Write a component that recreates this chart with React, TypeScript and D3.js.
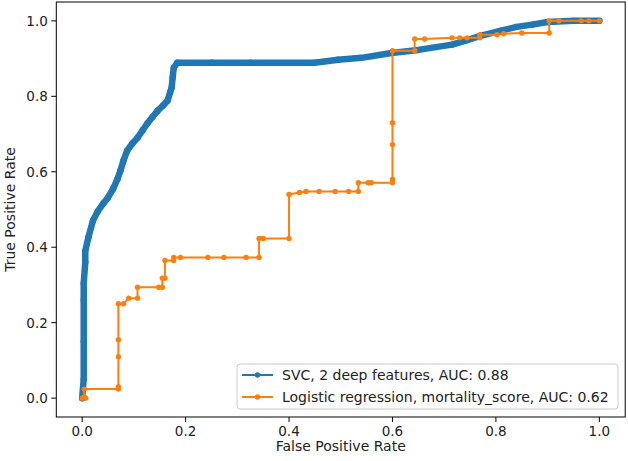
import React from "react";
import * as d3 from "d3";

const svcFpr = [0, 0.003, 0.003, 0.003, 0.003, 0.006, 0.006, 0.012, 0.021, 0.03, 0.041, 0.05, 0.06, 0.068, 0.074, 0.08, 0.087, 0.097, 0.107, 0.117, 0.126, 0.136, 0.146, 0.156, 0.165, 0.17, 0.173, 0.175, 0.177, 0.184, 0.25, 0.326, 0.449, 0.495, 0.54, 0.598, 0.65, 0.715, 0.74, 0.77, 0.81, 0.84, 0.87, 0.9, 0.95, 1.0];
const svcTpr = [0, 0.05, 0.15, 0.26, 0.304, 0.36, 0.39, 0.426, 0.471, 0.495, 0.516, 0.532, 0.555, 0.58, 0.603, 0.63, 0.656, 0.675, 0.69, 0.71, 0.728, 0.745, 0.762, 0.775, 0.788, 0.81, 0.823, 0.85, 0.875, 0.889, 0.889, 0.889, 0.889, 0.897, 0.902, 0.915, 0.923, 0.937, 0.947, 0.96, 0.974, 0.984, 0.99, 0.997, 1.0, 1.0];

const lrFpr = [0, 0.007, 0.004, 0.004, 0.07, 0.07, 0.07, 0.07, 0.07, 0.08, 0.09, 0.107, 0.107, 0.148, 0.155, 0.155, 0.16, 0.16, 0.177, 0.177, 0.19, 0.243, 0.274, 0.317, 0.342, 0.342, 0.35, 0.4, 0.4, 0.42, 0.433, 0.458, 0.489, 0.515, 0.534, 0.534, 0.553, 0.559, 0.6, 0.6, 0.6, 0.6, 0.6, 0.643, 0.643, 0.662, 0.715, 0.73, 0.744, 0.769, 0.769, 0.802, 0.815, 0.85, 0.903, 0.903, 0.922, 0.965, 0.98, 1.0];
const lrTpr = [0, 0, 0.003, 0.024, 0.024, 0.03, 0.11, 0.155, 0.25, 0.25, 0.265, 0.265, 0.294, 0.294, 0.294, 0.318, 0.318, 0.365, 0.365, 0.373, 0.373, 0.373, 0.373, 0.373, 0.373, 0.423, 0.423, 0.423, 0.54, 0.545, 0.548, 0.548, 0.548, 0.548, 0.548, 0.571, 0.571, 0.571, 0.571, 0.58, 0.672, 0.73, 0.921, 0.921, 0.952, 0.952, 0.955, 0.955, 0.955, 0.955, 0.963, 0.963, 0.966, 0.968, 0.968, 1.0, 1.0, 1.0, 1.0, 1.0];

const ticks = [0, 0.2, 0.4, 0.6, 0.8, 1.0];
const legendLabels = ["SVC, 2 deep features, AUC: 0.88", "Logistic regression, mortality_score, AUC: 0.62"];
const colors = ["#1f77b4", "#ff7f0e"];

const W = 628, H = 461;
const FONT = "DejaVu Sans, sans-serif";

export default function App() {
  const x = d3.scaleLinear().domain([-0.05, 1.05]).range([56.3, 625.2]);
  const y = d3.scaleLinear().domain([-0.05, 1.05]).range([417, 2]);
  const svc = svcFpr.map((f, i) => [f, svcTpr[i]] as [number, number]);
  const lr = lrFpr.map((f, i) => [f, lrTpr[i]] as [number, number]);
  const line = d3.line<[number, number]>().x(d => x(d[0])).y(d => y(d[1]));
  const x0 = x(-0.05), x1 = x(1.05), y0 = y(-0.05), y1 = y(1.05);
  return (
    <svg width={W} height={H} style={{ position: "absolute", left: 0, top: 0, background: "#fff" }} fontFamily={FONT}>
      <rect x={0} y={0} width={W} height={H} fill="#fff" />
      <path d={line(svc) || ""} fill="none" stroke={colors[0]} strokeWidth={6.5} strokeLinejoin="round" strokeLinecap="round" />
      {svc.map((d, i) => (
        <circle key={"s" + i} cx={x(d[0])} cy={y(d[1])} r={3.2} fill={colors[0]} />
      ))}
      <path d={line(lr) || ""} fill="none" stroke={colors[1]} strokeWidth={2} strokeLinejoin="round" />
      {lr.map((d, i) => (
        <circle key={"l" + i} cx={x(d[0])} cy={y(d[1])} r={2.7} fill={colors[1]} />
      ))}
      <rect x={x0} y={y1} width={x1 - x0} height={y0 - y1} fill="none" stroke="#000" strokeWidth={1} />
      {ticks.map(t => (
        <g key={"x" + t}>
          <line x1={x(t)} x2={x(t)} y1={y0} y2={y0 + 5} stroke="#000" strokeWidth={1} />
          <text x={x(t)} y={y0 + 19} textAnchor="middle" fontSize={13.5} fill="#222">{t.toFixed(1)}</text>
        </g>
      ))}
      {ticks.map(t => (
        <g key={"y" + t}>
          <line x1={x0 - 5} x2={x0} y1={y(t)} y2={y(t)} stroke="#000" strokeWidth={1} />
          <text x={x0 - 8.5} y={y(t) + 5} textAnchor="end" fontSize={13.5} fill="#222">{t.toFixed(1)}</text>
        </g>
      ))}
      <text x={(x0 + x1) / 2} y={451} textAnchor="middle" fontSize={14} fill="#222">False Positive Rate</text>
      <text transform={`translate(15,${(y0 + y1) / 2}) rotate(-90)`} textAnchor="middle" fontSize={14} fill="#222">True Positive Rate</text>
      <rect x={237} y={364} width={381} height={45} rx={3} fill="#fff" fillOpacity={0.8} stroke="#ccc" strokeWidth={1} />
      {legendLabels.map((lab, i) => (
        <g key={lab}>
          <line x1={242} x2={273} y1={375 + i * 22} y2={375 + i * 22} stroke={colors[i]} strokeWidth={2} />
          <circle cx={257.5} cy={375 + i * 22} r={2.7} fill={colors[i]} />
          <text x={282} y={380 + i * 22} fontSize={14} fill="#222">{lab}</text>
        </g>
      ))}
    </svg>
  );
}
